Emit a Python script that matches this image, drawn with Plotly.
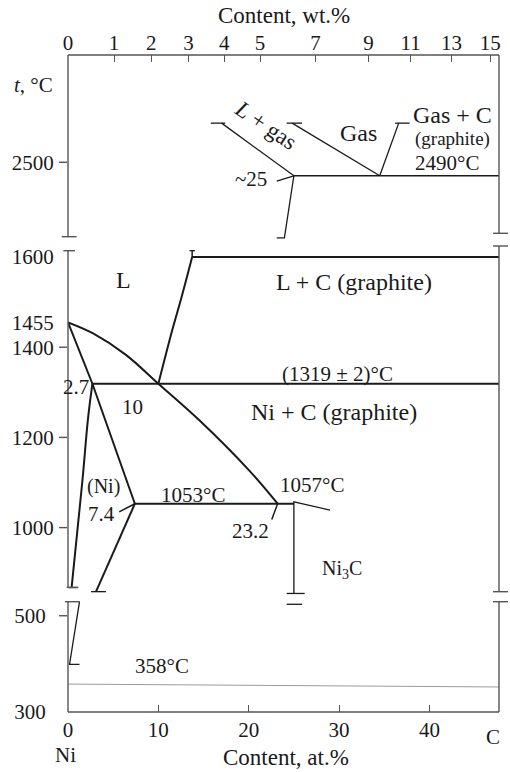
import plotly.graph_objects as go

FONT = "Liberation Serif"
INK = "#1a1a1a"
AXIS_INK = "#555555"

# ---------------- axis ticks ----------------
X_MAX = 47.7                       # at.% C at the right edge of the frame
AT_TICKS = [0, 10, 20, 30, 40]
WT_TICK_LABELS = ["0", "1", "2", "3", "4", "5", "7", "9", "11", "13", "15"]
WT_TICK_AT = [0, 5.10, 9.22, 13.33, 17.29, 21.26, 27.40, 33.27, 37.93, 42.44, 46.74]

T_TICKS_HIGH = [2500]
T_MARKS_HIGH = [2500]
T_TICKS_MID = [1600, 1455, 1400, 1200, 1000]
T_MARKS_MID = [1400, 1200, 1000]
T_TICKS_LOW = [500, 300]
T_MARKS_LOW = [500]

# ---------------- high-temperature part (at.% C, °C) ----------------
L_GAS_X, L_GAS_T = [17.0, 25.0], [2529, 2490]
GAS_LEFT_X, GAS_LEFT_T = [24.8, 34.5], [2529, 2490]
GAS_RIGHT_X, GAS_RIGHT_T = [34.5, 36.6], [2490, 2529]
LINE_2490_X, LINE_2490_T = [25.0, X_MAX], [2490, 2490]
BELOW_25_X, BELOW_25_T = [25.0, 23.95, 23.1], [2490, 2444, 2444]
LEADER_25_X, LEADER_25_T = [25.0, 23.1], [2490, 2486]
CAPS_HIGH_X = [[15.8, 17.4], [24.2, 25.9], [36.2, 37.8]]
CAPS_HIGH_T = [2529, 2529, 2529]

# ---------------- melting / eutectic part ----------------
LIQ_NI_X = [0, 2.73, 6.41, 10.0, 14.48, 19.99, 23.2]
LIQ_NI_T = [1455, 1431, 1383, 1319, 1239, 1128, 1053]
LIQ_C_X = [10.0, 11.54, 12.58, 13.74]
LIQ_C_T = [1319, 1438, 1512, 1600]
LIQ_C_TOP_X, LIQ_C_TOP_T = [13.74, 13.74], [1600, 1614]
SOLIDUS_X, SOLIDUS_T = [0, 2.7, 7.4], [1455, 1319, 1053]
SOLVUS_X, SOLVUS_T = [2.7, 2.2, 1.6, 0.4], [1319, 1239, 1105, 867]
SOLVUS_META_X, SOLVUS_META_T = [7.4, 3.1], [1053, 858]
EUTECTIC_X, EUTECTIC_T = [2.7, X_MAX], [1319, 1319]
LINE_1600_X, LINE_1600_T = [13.74, X_MAX], [1600, 1600]
LINE_1053_X, LINE_1053_T = [7.4, 25.0], [1053, 1053]
NI3C_X, NI3C_T = [29.0, 25.0, 25.0], [1039, 1057, 854]
LEADER_74_X, LEADER_74_T = [7.4, 5.67], [1053, 1035]
LEADER_232_X, LEADER_232_T = [23.2, 22.55], [1053, 1018]
CAPS_MID_X = [[13.45, 14.05], [-0.15, 1.1], [2.55, 4.2], [24.2, 26.2], [24.2, 25.9]]
CAPS_MID_T = [1614, 867, 858, 854, 830]

# ---------------- low-temperature part ----------------
LOW_SOLVUS_X, LOW_SOLVUS_T = [1.27, 0.17, 1.27], [529, 399, 399]
CURIE_X, CURIE_T = [0, X_MAX], [358, 352]

# ---------------- page geometry ----------------
W, H = 510, 772
ML, MR, MT, MB = 68, 9, 55, 60
PW, PH = W - ML - MR, H - MT - MB


def fx(px):
    return (px - ML) / PW


def fy(py):
    return (H - MB - py) / PH


fig = go.Figure()


def line(xs, ts, yaxis, width=2.0, color=INK, shape="linear"):
    fig.add_trace(go.Scatter(x=xs, y=ts, xaxis="x", yaxis=yaxis, mode="lines",
                             line=dict(color=color, width=width, shape=shape),
                             hoverinfo="skip", showlegend=False))


# high-temperature boundaries
hw = 1.3
for xs, ts in [(L_GAS_X, L_GAS_T), (GAS_LEFT_X, GAS_LEFT_T), (GAS_RIGHT_X, GAS_RIGHT_T),
               (LINE_2490_X, LINE_2490_T), (BELOW_25_X, BELOW_25_T), (LEADER_25_X, LEADER_25_T)]:
    line(xs, ts, "y", hw)
for xs, t in zip(CAPS_HIGH_X, CAPS_HIGH_T):
    line(xs, [t, t], "y", hw)

# melting / eutectic boundaries
line(LIQ_NI_X, LIQ_NI_T, "y2", 2.0, shape="spline")
line(LIQ_C_X, LIQ_C_T, "y2", 2.0, shape="spline")
line(LIQ_C_TOP_X, LIQ_C_TOP_T, "y2", 1.5)
line(SOLIDUS_X, SOLIDUS_T, "y2", 2.0)
line(SOLVUS_X, SOLVUS_T, "y2", 2.0, shape="spline")
line(SOLVUS_META_X, SOLVUS_META_T, "y2", 2.0)
line(EUTECTIC_X, EUTECTIC_T, "y2", 2.0)
line(LINE_1600_X, LINE_1600_T, "y2", 2.0)
line(LINE_1053_X, LINE_1053_T, "y2", 2.0)
line(NI3C_X, NI3C_T, "y2", 1.3)
line(LEADER_74_X, LEADER_74_T, "y2", 1.5)
line(LEADER_232_X, LEADER_232_T, "y2", 1.5)
for xs, t in zip(CAPS_MID_X, CAPS_MID_T):
    line(xs, [t, t], "y2", 1.3)

# low-temperature part
line(LOW_SOLVUS_X, LOW_SOLVUS_T, "y3", 1.3)
line(CURIE_X, CURIE_T, "y3", 1.0, color="#9a9a9a")

# carrier for the top (wt.%) axis
fig.add_trace(go.Scatter(x=[0], y=[2500], xaxis="x2", yaxis="y", mode="markers",
                         marker=dict(opacity=0), hoverinfo="skip", showlegend=False))

# ---------------- frame, broken temperature axis ----------------
shapes = []


def seg(x0, y0, x1, y1, color=AXIS_INK, width=1.4):
    shapes.append(dict(type="line", xref="paper", yref="paper",
                       x0=fx(x0), y0=fy(y0), x1=fx(x1), y1=fy(y1),
                       line=dict(color=color, width=width)))


XL, XR = ML, W - MR
for y0, y1 in [(55, 236.7), (250.7, 587.3), (601.7, 712)]:
    seg(XL, y0, XL, y1)
for y0, y1 in [(55, 233.3), (246, 591.7), (601.7, 712)]:
    seg(XR, y0, XR, y1)
for yy, a, b in [(236.7, 61.7, 76.7), (250.7, 63.3, 75), (587.3, 66.7, 78.3), (601.7, 65, 80)]:
    seg(a, yy, b, yy)
for yy in [233.3, 246, 591.7, 601.7]:
    seg(XR - 6, yy, XR + 9, yy)
seg(XL, 55, XR, 55)
seg(XL, 712, XR, 712)

for yref, marks in [("y", T_MARKS_HIGH), ("y2", T_MARKS_MID), ("y3", T_MARKS_LOW)]:
    for t in marks:
        shapes.append(dict(type="line", xref="paper", yref=yref,
                           x0=fx(59), x1=fx(67), y0=t, y1=t,
                           line=dict(color=AXIS_INK, width=1.4)))


# ---------------- labels ----------------
def label(text, x, y, yref, size=21, xref="x", xanchor="center", **kw):
    fig.add_annotation(text=text, x=x, y=y, xref=xref, yref=yref, showarrow=False,
                       xanchor=xanchor, yanchor="middle",
                       font=dict(family=FONT, size=size, color=INK), **kw)


label("<i>L</i> + gas", 21.9, 2527, "y", 23, textangle=34)
label("Gas", 32.2, 2521.5, "y", 24)
label("Gas + C", 42.5, 2535, "y", 24)
label("(graphite)", 42.5, 2517, "y", 19)
label("2490°C", 41.9, 2499.7, "y", 21)
label("~25", 22.3, 2487.4, "y", 21, xanchor="right")

label("L", 6.1, 1549, "y2", 24)
label("L + C (graphite)", 31.6, 1545, "y2", 24)
label("(1319 ± 2)°C", 29.8, 1340, "y2", 21)
label("Ni + C (graphite)", 29.4, 1256, "y2", 24)
label("2.7", 2.55, 1312, "y2", 21, xanchor="right")
label("10", 7.1, 1268, "y2", 21)
label("(Ni)", 3.9, 1091, "y2", 20)
label("7.4", 5.4, 1031, "y2", 21, xanchor="right")
label("1053°C", 13.8, 1073, "y2", 21)
label("23.2", 22.5, 992, "y2", 21, xanchor="right")
label("1057°C", 27.0, 1094, "y2", 21)
label("Ni<sub>3</sub>C", 30.3, 908, "y2", 20)

label("358°C", 10.45, 395, "y3", 21)

label("<i>t</i>, °C", fx(55), fy(85), "paper", 21, xref="paper", xanchor="right")
label("Content, wt.%", fx(285), fy(15), "paper", 23, xref="paper")
label("Content, at.%", fx(287), fy(758), "paper", 23, xref="paper")
label("Ni", fx(65), fy(755), "paper", 21, xref="paper")
label("C", fx(494.5), fy(737), "paper", 21, xref="paper")

tickfont = dict(family=FONT, size=21, color=INK)
yax_common = dict(anchor="x", showgrid=False, zeroline=False, showline=False,
                  ticks="outside", tickcolor="rgba(0,0,0,0)", tickfont=tickfont)

fig.update_layout(
    width=W, height=H,
    margin=dict(l=ML, r=MR, t=MT, b=MB, pad=0),
    paper_bgcolor="white", plot_bgcolor="rgba(0,0,0,0)",
    showlegend=False,
    xaxis=dict(domain=[0, 1], range=[0, X_MAX], anchor="y3",
               tickvals=AT_TICKS, ticks="inside", ticklen=7, tickcolor=AXIS_INK, tickwidth=1.4,
               ticklabelstandoff=3,
               showgrid=False, zeroline=False, showline=False, tickfont=tickfont),
    xaxis2=dict(overlaying="x", side="top", anchor="y", range=[0, X_MAX],
                tickvals=WT_TICK_AT, ticktext=WT_TICK_LABELS,
                ticks="inside", ticklen=7, tickcolor=AXIS_INK, tickwidth=1.4,
                showgrid=False, zeroline=False, showline=False, tickfont=tickfont),
    yaxis=dict(domain=[fy(240), 1], range=[2442.4, 2579.5],
               tickvals=T_TICKS_HIGH, ticklen=9, **yax_common),
    yaxis2=dict(domain=[fy(606), fy(246)], range=[826.2, 1624.4],
                tickvals=T_TICKS_MID, ticklen=9, **yax_common),
    yaxis3=dict(domain=[0, fy(600)], range=[300, 532.7],
                tickvals=T_TICKS_LOW, ticklen=17, **yax_common),
    shapes=shapes,
)

fig.write_html("out.html")
